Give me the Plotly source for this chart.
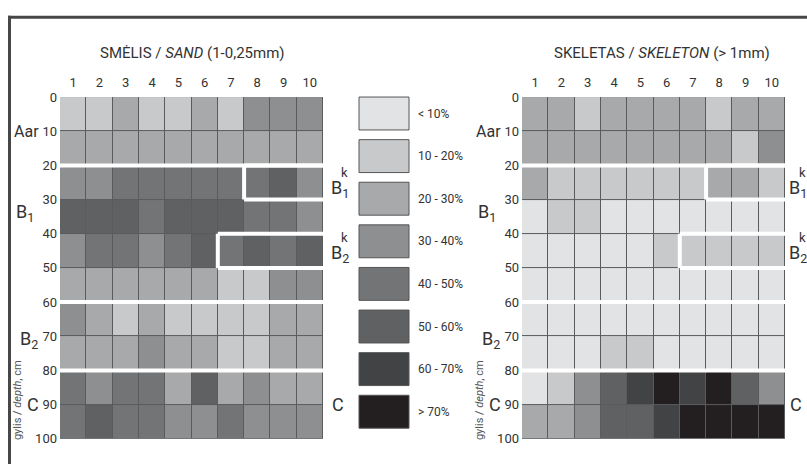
import plotly.graph_objects as go

# Soil profile grids: 10 sampling columns x 10 depth layers (0-100 cm, 10 cm steps).
# Values are class codes of the fraction content: 0 "<10%", 1 "10-20%", ... 7 ">70%".
columns = list(range(1, 11))
layer_mid = [5, 15, 25, 35, 45, 55, 65, 75, 85, 95]
depth_ticks = list(range(0, 101, 10))

sand = [
    [1, 1, 2, 1, 1, 2, 1, 3, 3, 3],
    [2, 2, 2, 2, 2, 2, 2, 2, 2, 2],
    [3, 3, 4, 4, 4, 4, 4, 4, 5, 3],
    [5, 5, 5, 4, 5, 5, 5, 4, 4, 3],
    [3, 4, 4, 3, 4, 5, 4, 5, 4, 5],
    [2, 2, 2, 2, 2, 2, 1, 1, 3, 3],
    [3, 2, 1, 2, 1, 1, 1, 1, 2, 2],
    [2, 2, 2, 3, 2, 2, 1, 1, 2, 2],
    [4, 3, 4, 4, 2, 5, 2, 3, 2, 2],
    [4, 5, 4, 4, 3, 3, 4, 3, 3, 3],
]

skeleton = [
    [2, 2, 1, 2, 2, 2, 2, 1, 2, 2],
    [2, 2, 2, 2, 2, 2, 2, 2, 1, 3],
    [2, 1, 1, 1, 1, 1, 1, 2, 2, 1],
    [0, 1, 1, 0, 0, 0, 0, 0, 0, 0],
    [0, 0, 0, 0, 0, 1, 1, 1, 1, 1],
    [0, 0, 0, 0, 0, 0, 0, 0, 0, 0],
    [0, 0, 0, 0, 0, 0, 0, 0, 0, 0],
    [0, 0, 0, 1, 1, 0, 0, 0, 0, 0],
    [0, 1, 3, 5, 6, 7, 6, 7, 5, 3],
    [2, 2, 3, 5, 5, 6, 7, 7, 7, 7],
]

class_labels = ["< 10%", "10 - 20%", "20 - 30%", "30 - 40%",
                "40 - 50%", "50 - 60%", "60 - 70%", "> 70%"]
class_colors = ["#e2e3e5", "#c8c9cb", "#a8a9ab", "#8e8f91",
                "#737476", "#606163", "#424345", "#231f20"]

# Horizon boundaries (cm) crossing the whole profile
horizon_bounds = [20, 60, 80]
# Calcareous sub-horizons: (first column, last column, top, bottom)
bk_zones = [(8, 10, 20, 30), (7, 10, 40, 50)]

W, H = 807, 472
FONT = "Roboto, Liberation Sans, sans-serif"
TXT = "#333333"


def px(x):
    return x / W


def py(y):
    return 1 - y / H


# discrete colour scale
cs = []
n = len(class_colors)
for i, c in enumerate(class_colors):
    cs.append([i / n, c])
    cs.append([(i + 1) / n, c])

fig = go.Figure()

# (values, x axis, y axis, left px, right px, offset of right-hand labels)
panels = [
    (sand, "x", "y", 60, 323, 6),
    (skeleton, "x2", "y2", 522, 785, 2),
]
plot_top, plot_bot = 93, 446

for z, xa, ya, x0, x1, _ in panels:
    fig.add_trace(go.Heatmap(
        z=z, x=columns, y=layer_mid, xaxis=xa, yaxis=ya,
        colorscale=cs, zmin=-0.5, zmax=7.5, showscale=False,
        xgap=1, ygap=1, hoverinfo="skip",
    ))

axis_common = dict(showgrid=False, zeroline=False, showline=False, ticks="",
                   fixedrange=True)

for i, (z, xa, ya, x0, x1, _) in enumerate(panels):
    sfx = "" if i == 0 else "2"
    fig.update_layout(**{
        "xaxis" + sfx: dict(axis_common, domain=[px(x0), px(x1)], range=[0.5, 10.5],
                            side="top", tickvals=columns, anchor="y" + sfx,
                            ticklabelstandoff=6,
                            tickfont=dict(family=FONT, size=13, color=TXT)),
        "yaxis" + sfx: dict(axis_common, domain=[py(plot_bot), py(plot_top)],
                            range=[100, 0], tickvals=depth_ticks, anchor="x" + sfx,
                            ticklabelstandoff=2,
                            tickfont=dict(family=FONT, size=13, color=TXT)),
    })

shapes = []
annotations = []

for i, (z, xa, ya, x0, x1, roff) in enumerate(panels):
    line = dict(color="white", width=4)
    for d in horizon_bounds:
        shapes.append(dict(type="line", xref=xa, yref=ya, x0=0.5, x1=10.5,
                           y0=d, y1=d, line=line))
    for c0, c1, top, bot in bk_zones:
        shapes.append(dict(type="line", xref=xa, yref=ya, x0=c0 - 0.5, x1=10.5,
                           y0=top, y1=top, line=line))
        shapes.append(dict(type="line", xref=xa, yref=ya, x0=c0 - 0.5, x1=10.5,
                           y0=bot, y1=bot, line=line))
        shapes.append(dict(type="line", xref=xa, yref=ya, x0=c0 - 0.5, x1=c0 - 0.5,
                           y0=top, y1=bot, line=line))

    big = dict(family=FONT, size=18, color=TXT)
    # horizon names on the left
    annotations += [
        dict(text="Aar", xref="paper", yref=ya, x=px(x0 - 19), y=10, xanchor="right",
             yanchor="middle", showarrow=False, font=dict(family=FONT, size=16, color=TXT)),
        dict(text="B<sub>1</sub>", xref="paper", yref=ya, x=px(x0 - 35), y=34,
             xanchor="center", yanchor="middle", showarrow=False, font=big),
        dict(text="B<sub>2</sub>", xref="paper", yref=ya, x=px(x0 - 20), y=71,
             xanchor="right", yanchor="middle", showarrow=False, font=big),
        dict(text="C", xref="paper", yref=ya, x=px(x0 - 19), y=90, xanchor="right",
             yanchor="middle", showarrow=False, font=big),
    ]
    # horizon names on the right
    rx = x1 + roff
    for sub, d in (("1", 27), ("2", 46)):
        annotations.append(dict(text="B<sub>%s</sub>" % sub, xref="paper", yref=ya,
                                x=px(rx), y=d, xanchor="left", yanchor="middle",
                                showarrow=False, font=big))
        annotations.append(dict(text="k", xref="paper", yref=ya, x=px(rx + 10),
                                y=d - 5, xanchor="left", yanchor="middle",
                                showarrow=False, font=dict(family=FONT, size=13, color=TXT)))
    annotations.append(dict(text="C", xref="paper", yref=ya, x=px(rx + 1), y=90,
                            xanchor="left", yanchor="middle", showarrow=False, font=big))
    # depth axis title
    annotations.append(dict(text="gylis / <i>depth</i>, cm", xref="paper", yref="paper",
                            x=px(x0 - 43), y=py(406), textangle=-90, showarrow=False,
                            xanchor="center", yanchor="middle",
                            font=dict(family=FONT, size=11, color="#555555")))

# panel titles
annotations += [
    dict(text="SMĖLIS / <i>SAND</i> (1-0,25mm)", xref="paper", yref="paper",
         x=px(192), y=py(47), showarrow=False, xanchor="center", yanchor="middle",
         font=dict(family=FONT, size=15, color=TXT)),
    dict(text="SKELETAS / <i>SKELETON</i> (> 1mm)", xref="paper", yref="paper",
         x=px(662), y=py(47), showarrow=False, xanchor="center", yanchor="middle",
         font=dict(family=FONT, size=15, color=TXT)),
]

# class legend
for k, (lab, col) in enumerate(zip(class_labels, class_colors)):
    top = 93 + 44 * k
    shapes.append(dict(type="rect", xref="paper", yref="paper",
                       x0=px(359), x1=px(409), y0=py(top + 34), y1=py(top),
                       fillcolor=col, line=dict(color="#555555", width=1)))
    annotations.append(dict(text=lab, xref="paper", yref="paper", x=px(416),
                            y=py(top + 17), xanchor="left", yanchor="middle",
                            showarrow=False, font=dict(family=FONT, size=12, color=TXT)))

# frame edges
shapes.append(dict(type="line", xref="paper", yref="paper", x0=px(8), x1=1,
                   y0=py(10.5), y1=py(10.5), line=dict(color="#474747", width=3)))
shapes.append(dict(type="line", xref="paper", yref="paper", x0=px(9.5), x1=px(9.5),
                   y0=0, y1=py(9), line=dict(color="#474747", width=3)))

fig.update_layout(
    width=W, height=H, margin=dict(l=0, r=0, t=0, b=0),
    paper_bgcolor="white", plot_bgcolor="#5a5b5d",
    shapes=shapes, annotations=annotations, showlegend=False,
)

fig.write_html("out.html")
